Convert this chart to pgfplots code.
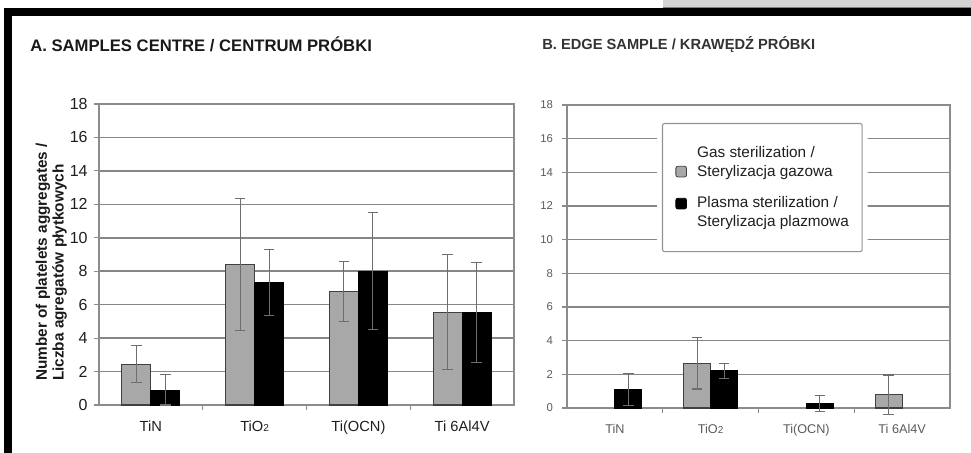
\documentclass[border=0pt]{standalone}
\usepackage{fontspec}
\setmainfont{Liberation Sans}
\usepackage{pgfplots}
\pgfplotsset{compat=1.18}
\definecolor{barg}{HTML}{A8A8A8}
\definecolor{bargo}{HTML}{404040}
\definecolor{errc}{HTML}{6E6E6E}
\definecolor{gridc}{HTML}{878787}
\definecolor{axc}{HTML}{8C8C8C}
\definecolor{labA}{HTML}{1E1E1E}
\definecolor{labB}{HTML}{5A5A5A}
\definecolor{topgray}{HTML}{D4D4D4}
\begin{document}
\begin{tikzpicture}
\useasboundingbox (0,0) rectangle (728.25pt,-339.75pt);
% decorative frame
\fill[topgray] (497.25pt,0pt) rectangle (728.25pt,-6pt);
\draw[gray, line width=0.6pt] (497.25pt,-5.7pt) -- (728.25pt,-5.7pt);
\fill[black] (3pt,-6pt) rectangle (728.25pt,-12pt);
\fill[black] (3pt,-6pt) rectangle (9pt,-339.75pt);
% titles
\node[anchor=base west, inner sep=0pt, font=\bfseries\fontsize{12.5}{14}\selectfont, text=black!90] at (22.5pt,-39pt) {A. SAMPLES CENTRE / CENTRUM PRÓBKI};
\node[anchor=base west, inner sep=0pt, font=\bfseries\fontsize{11}{13}\selectfont, text=black!80] at (406.5pt,-37.5pt) {B. EDGE SAMPLE / KRAWĘDŹ PRÓBKI};

\pgfplotsset{
  panel/.style={
    scale only axis, anchor=south west,
    xmin=-0.5, xmax=3.5, ymin=0, ymax=18,
    ybar=0pt,
    xtick={0.5,1.5,2.5}, xticklabels={},
    extra x ticks={0,1,2,3},
    extra x tick labels={TiN, TiO{\fontsize{7.5}{8}\selectfont 2}, Ti(OCN), Ti 6Al4V},
    extra x tick style={major tick length=0pt, tick style={draw=none}},
    ytick={0,2,...,18},
    ymajorgrids,
    tick align=outside, major tick length=4pt,
    xtick pos=bottom, ytick pos=left,
    tick style={axc, line width=0.8pt},
    axis line style={axc, line width=0.8pt},
    /pgf/number format/assume math mode=true,
    error bars/y dir=both, error bars/y explicit,
    error bars/error bar style={errc, line width=0.8pt},
    error bars/error mark options={errc, line width=0.8pt, mark size=4pt, rotate=90},
  }
}

% Panel A
\begin{axis}[panel,
  at={(74.25pt,-303.75pt)}, width=311.25pt, height=225.75pt,
  bar width=21.75pt,
  grid style={gridc, line width=1.1pt},
  yticklabel style={font=\fontsize{12}{12}\selectfont, text=labA, xshift=-1pt},
  extra x tick style={major tick length=0pt, tick style={draw=none},
    tick label style={font=\fontsize{11}{12}\selectfont, text=labA, yshift=-8pt}},
  ylabel={Number of platelets aggregates /\\Liczba agregatów płytkowych},
  ylabel style={align=left, font=\bfseries\fontsize{11.5}{12.5}\selectfont, text=black!90,
    at={(axis description cs:-0.115,0.475)}, anchor=center},
]
\addplot[fill=barg, draw=bargo, line width=0.8pt] coordinates {
  (0,2.45) +- (0,1.10)
  (1,8.41) +- (0,3.94)
  (2,6.78) +- (0,1.80)
  (3,5.54) +- (0,3.44)
};
\addplot[fill=black, draw=black, line width=0.8pt] coordinates {
  (0,0.86) += (0,0.97) -= (0,0.86)
  (1,7.32) +- (0,1.97)
  (2,8.01) +- (0,3.50)
  (3,5.54) +- (0,2.98)
};
\end{axis}

% Panel B
\begin{axis}[panel,
  at={(425.25pt,-306pt)}, width=287.25pt, height=227.25pt,
  bar width=20.25pt, clip=false,
  grid style={gridc, line width=0.8pt},
  yticklabel style={font=\fontsize{8.5}{10}\selectfont, text=labB, xshift=-3pt},
  extra x tick style={major tick length=0pt, tick style={draw=none},
    tick label style={font=\fontsize{9.5}{11}\selectfont, text=labB, yshift=-9pt}},
  legend cell align=left,
  legend style={at={(0.248,0.9406)}, anchor=north west,
    draw=gray!85, line width=0.8pt, rounded corners=1.5pt, fill=white,
    preaction={draw=white, line width=8pt},
    font=\fontsize{11.5}{14.25}\selectfont, text=black!88,
    inner xsep=6pt, inner ysep=15pt, row sep=8pt,
    nodes={align=left, inner xsep=4pt}},
]
\addplot[fill=barg, draw=bargo, line width=0.8pt,
  legend image code/.code={\draw[fill=barg, draw=bargo, line width=0.6pt] (0pt,-11pt) rectangle (8pt,-3pt);}]
  coordinates {
  (1,2.67) +- (0,1.54)
  (3,0.79) +- (0,1.17)
};
\addlegendentry{Gas sterilization /\\Sterylizacja gazowa}
\addplot[fill=black, draw=black, line width=0.8pt,
  legend image code/.code={\draw[fill=black, draw=black, line width=0.6pt] (0pt,3pt) rectangle (8pt,11pt);}]
  coordinates {
  (0,1.09) +- (0,0.95)
  (1,2.22) +- (0,0.45)
  (2,0.26) +- (0,0.48)
};
\addlegendentry{Plasma sterilization /\\Sterylizacja plazmowa}
\end{axis}
\end{tikzpicture}
\end{document}
